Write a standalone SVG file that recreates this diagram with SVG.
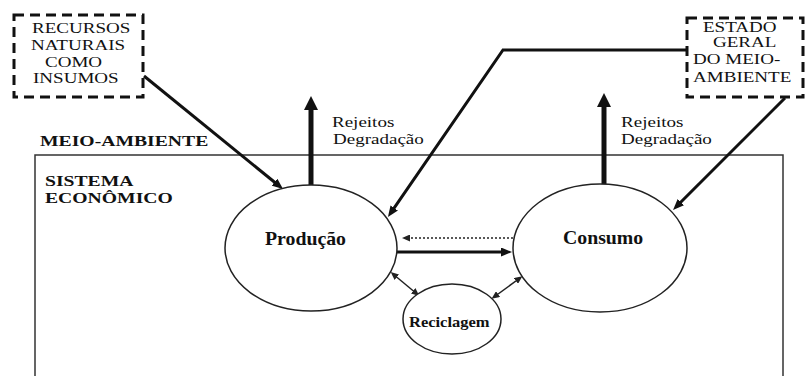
<svg xmlns="http://www.w3.org/2000/svg" width="807" height="376" viewBox="0 0 807 376">
<style>
  .serif { font-family: "Liberation Serif", "Times New Roman", serif; fill: #111; }
  .b { font-weight: bold; }
  .box { fill: none; stroke: #111; stroke-width: 3; stroke-dasharray: 10 6; }
  .node { fill: #fff; stroke: #222; stroke-width: 1.5; }
  .thick { stroke: #111; stroke-width: 5; fill: none; }
  .med { stroke: #111; stroke-width: 3; fill: none; }
  .thin { stroke: #222; stroke-width: 1.5; fill: none; }
</style>
<defs>
  <marker id="ah-big" markerUnits="userSpaceOnUse" markerWidth="14" markerHeight="14" refX="4" refY="7" orient="auto">
    <path d="M0,0 L14,7 L0,14 z" fill="#111"/>
  </marker>
  <marker id="ah-med" markerUnits="userSpaceOnUse" markerWidth="11" markerHeight="9" refX="3" refY="4.5" orient="auto">
    <path d="M0,0 L11,4.5 L0,9 z" fill="#111"/>
  </marker>
  <marker id="ah-small" markerUnits="userSpaceOnUse" markerWidth="8" markerHeight="7" refX="5" refY="3.5" orient="auto-start-reverse">
    <path d="M0,0 L8,3.5 L0,7 z" fill="#222"/>
  </marker>
</defs>
<rect width="807" height="376" fill="#fff"/>

<g id="meio-ambiente">
  <rect x="35" y="155" width="748" height="240" fill="none" stroke="#333" stroke-width="1.5"/>
  <g transform="scale(1.27 1)">
    <text class="serif b" x="31.5" y="146" font-size="15.5">MEIO-AMBIENTE</text>
  </g>
</g>
<g id="sistema-economico">
  <g transform="scale(1.27 1)">
    <text class="serif b" x="35.4" y="186" font-size="15.5">SISTEMA</text>
    <text class="serif b" x="35.4" y="203" font-size="15.5">ECONÔMICO</text>
  </g>
</g>

<g id="connectors">
  <line class="thick" x1="311" y1="185" x2="311" y2="106" marker-end="url(#ah-big)"/>
  <line class="thick" x1="604" y1="184" x2="604" y2="103" marker-end="url(#ah-big)"/>
  <line class="med" x1="144" y1="76" x2="276.8" y2="184" marker-end="url(#ah-med)"/>
  <polyline class="med" stroke-width="2.5" points="687,50 503,50 392.5,210.4" marker-end="url(#ah-med)"/>
  <line class="med" x1="785" y1="98" x2="678.7" y2="204.3" marker-end="url(#ah-med)"/>
  <line class="med" stroke-width="2.5" x1="397" y1="252" x2="504" y2="252" marker-end="url(#ah-med)"/>
  <line class="thin" stroke-dasharray="2 2" x1="513" y1="238" x2="405" y2="238" marker-end="url(#ah-small)"/>
  <line class="thin" x1="393" y1="274" x2="417" y2="294" marker-start="url(#ah-small)" marker-end="url(#ah-small)"/>
  <line class="thin" x1="494" y1="297" x2="520" y2="278" marker-start="url(#ah-small)" marker-end="url(#ah-small)"/>
</g>

<g id="rejeitos-producao">
  <g transform="scale(1.27 1)">
    <text class="serif" x="261.4" y="127" font-size="15">Rejeitos</text>
    <text class="serif" x="262.2" y="144" font-size="15">Degradação</text>
  </g>
</g>
<g id="rejeitos-consumo">
  <g transform="scale(1.27 1)">
    <text class="serif" x="489" y="127" font-size="15">Rejeitos</text>
    <text class="serif" x="489" y="144" font-size="15">Degradação</text>
  </g>
</g>

<g id="recursos-naturais">
  <rect class="box" x="14" y="15" width="129" height="82"/>
  <g transform="scale(1.27 1)">
    <text class="serif" x="25.2" y="33" font-size="15">RECURSOS</text>
    <text class="serif" x="24.4" y="50" font-size="15">NATURAIS</text>
    <text class="serif" x="35.4" y="67" font-size="15">COMO</text>
    <text class="serif" x="26" y="83" font-size="15">INSUMOS</text>
  </g>
</g>

<g id="estado-geral">
  <rect class="box" x="687" y="18" width="116" height="79"/>
  <g transform="scale(1.27 1)">
    <text class="serif" x="553.5" y="32" font-size="15">ESTADO</text>
    <text class="serif" x="561.4" y="47" font-size="15">GERAL</text>
    <text class="serif" x="545.7" y="64" font-size="15">DO MEIO-</text>
    <text class="serif" x="545.7" y="82" font-size="15">AMBIENTE</text>
  </g>
</g>

<g id="producao">
  <ellipse class="node" cx="311" cy="248" rx="86" ry="63"/>
  <g transform="scale(1.1 1)">
    <text class="serif b" x="240.9" y="245" font-size="18">Produção</text>
  </g>
</g>
<g id="consumo">
  <ellipse class="node" cx="600" cy="248" rx="87" ry="64"/>
  <g transform="scale(1.1 1)">
    <text class="serif b" x="511.8" y="244" font-size="18">Consumo</text>
  </g>
</g>
<g id="reciclagem">
  <ellipse class="node" cx="452" cy="319" rx="49" ry="35"/>
  <g transform="scale(1.1 1)">
    <text class="serif b" x="371.8" y="327" font-size="15">Reciclagem</text>
  </g>
</g>
</svg>
